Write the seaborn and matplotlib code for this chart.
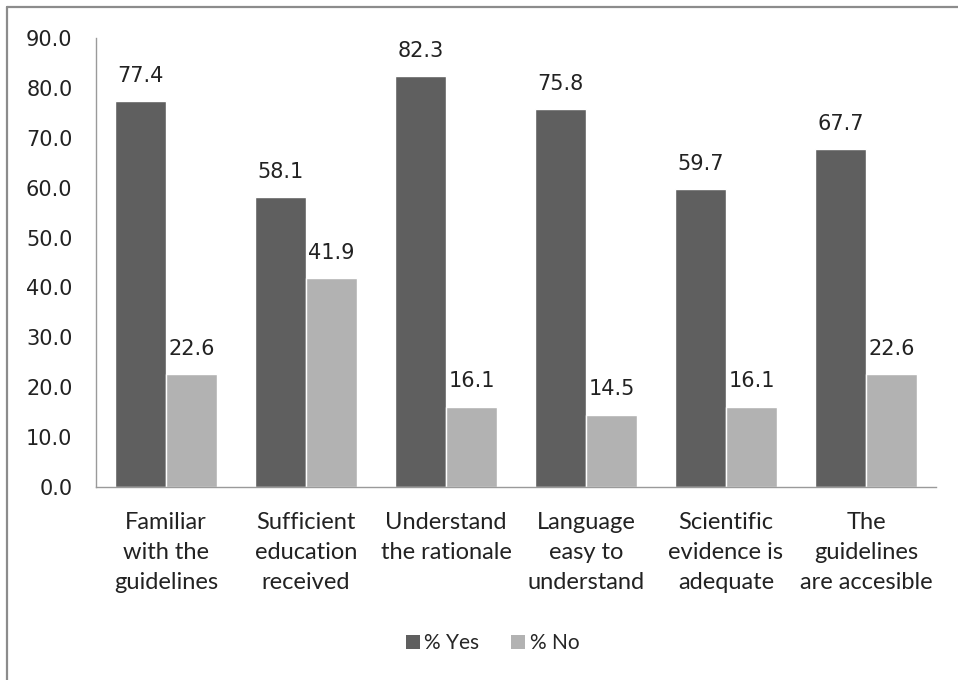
import matplotlib
matplotlib.use("Agg")
import matplotlib.pyplot as plt
import seaborn as sns
import pandas as pd
from matplotlib.lines import Line2D
from matplotlib.patches import Patch

categories = [
    "Familiar\nwith the\nguidelines",
    "Sufficient\neducation\nreceived",
    "Understand\nthe rationale",
    "Language\neasy to\nunderstand",
    "Scientific\nevidence is\nadequate",
    "The\nguidelines\nare accesible",
]
yes_values = [77.4, 58.1, 82.3, 75.8, 59.7, 67.7]
no_values = [22.6, 41.9, 16.1, 14.5, 16.1, 22.6]
series_names = ["% Yes", "% No"]
y_ticks = [0, 10, 20, 30, 40, 50, 60, 70, 80, 90]

colors = ["#5f5f5f", "#b2b2b2"]

df = pd.DataFrame({
    "category": categories * 2,
    "value": yes_values + no_values,
    "series": [series_names[0]] * len(categories) + [series_names[1]] * len(categories),
})

sns.set_theme(style="white")
plt.rcParams["font.family"] = ["DejaVu Sans"]

fig = plt.figure(figsize=(9.58, 6.8), dpi=100)
ax = fig.add_axes([0.1002, 0.284, 0.8768, 0.660])

sns.barplot(data=df, x="category", y="value", hue="series", order=categories,
            hue_order=series_names, palette=colors, width=0.73, gap=0,
            saturation=1, legend=False, ax=ax, errorbar=None)

for container in ax.containers:
    ax.bar_label(container, fmt="%.1f", padding=11, fontsize=15, color="#222222")

ax.set_ylim(0, 90)
ax.set_xlim(-0.5, len(categories) - 0.5)
ax.set_yticks(y_ticks)
ax.set_yticklabels([f"{t:.1f}" for t in y_ticks], fontsize=15, color="#222222")
ax.set_xticks(range(len(categories)))
ax.set_xticklabels(categories, fontsize=17, family=["Lato", "DejaVu Sans"],
                   color="#222222", linespacing=1.52)
ax.set_xlabel("")
ax.set_ylabel("")
ax.tick_params(axis="y", length=0, pad=17)
ax.tick_params(axis="x", length=0, pad=18)

for side in ["top", "right"]:
    ax.spines[side].set_visible(False)
for side in ["left", "bottom"]:
    ax.spines[side].set_color("#9a9a9a")
    ax.spines[side].set_linewidth(1.0)

handles = [Patch(facecolor=c, edgecolor="none") for c in colors]
fig.legend(handles, series_names, loc="center", bbox_to_anchor=(0.514, 0.054),
           ncol=2, frameon=False, handlelength=0.7, handleheight=0.7,
           handletextpad=0.2, columnspacing=1.5,
           prop={"family": ["Lato", "DejaVu Sans"], "size": 15})

# outer chart border (left and top edges)
border_color = "#8c8c8c"
fig.add_artist(Line2D([0.0078, 1.0], [0.989, 0.989], transform=fig.transFigure,
                      color=border_color, lw=1.6))
fig.add_artist(Line2D([0.0078, 0.0078], [0.0, 0.989], transform=fig.transFigure,
                      color=border_color, lw=1.6))

fig.savefig("out.png", dpi=100)
